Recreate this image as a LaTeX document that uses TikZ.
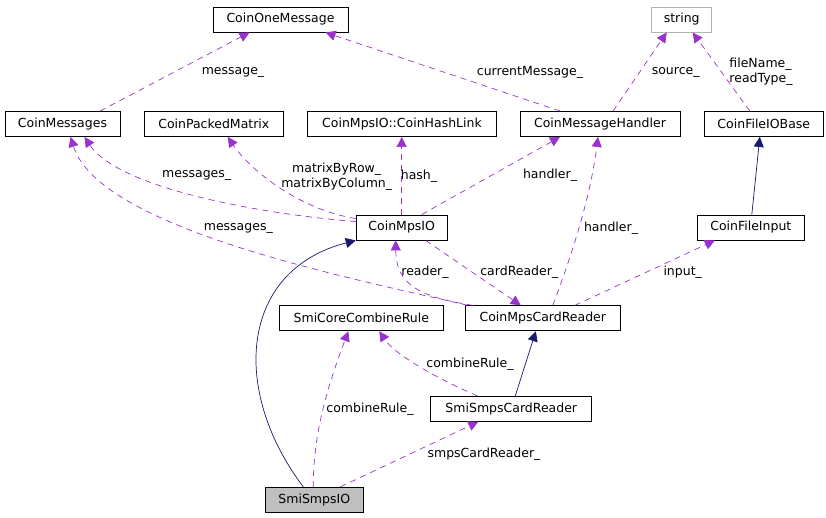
\documentclass[tikz,border=0pt]{standalone}
\usepackage{fontspec}
\setmainfont{DejaVu Sans}
\usepackage{tikz}
\usetikzlibrary{arrows.meta, positioning, calc}
\definecolor{usecolor}{HTML}{9A32CD}
\definecolor{inhcolor}{HTML}{191970}
\definecolor{rootfill}{HTML}{BFBFBF}

\begin{document}
\begin{tikzpicture}[x=1pt, y=-1pt,
    cls/.style={rectangle, draw=black, line width=0.9pt, fill=white, minimum width=#1, minimum height=25pt, inner sep=0pt, font=\fontsize{12.5}{15}\selectfont},
    uses/.style={-{Triangle[length=10pt,width=10pt]}, usecolor, line width=0.7pt, dash pattern=on 6pt off 5pt},
    inherits/.style={-{Triangle[length=10pt,width=10pt]}, inhcolor, line width=0.7pt},
    lbl/.style={font=\fontsize{12.5}{15}\selectfont, inner sep=0pt, align=center}
]
\useasboundingbox (0,0) rectangle (826,517);

% Top row
\node[cls=135pt] (onemsg) at (280.5,19.5) {CoinOneMessage};
\node[cls=60pt, draw=gray!60] (string) at (681.7,19.5) {string};

% Second row
\node[cls=115pt] (msgs) at (62.5,124) {CoinMessages};
\node[cls=139pt] (packed) at (213.8,124) {CoinPackedMatrix};
\node[cls=189pt] (hashlink) at (402,124) {CoinMpsIO::CoinHashLink};
\node[cls=160pt] (handler) at (600,124) {CoinMessageHandler};
\node[cls=119pt] (fileio) at (763.8,124) {CoinFileIOBase};

% Middle
\node[cls=91pt] (mpsio) at (401.7,227.5) {CoinMpsIO};
\node[cls=107pt] (fileinput) at (750.8,227.5) {CoinFileInput};
\node[cls=164pt] (combrule) at (361.3,318.3) {SmiCoreCombineRule};
\node[cls=155pt] (cardreader) at (542.8,318.3) {CoinMpsCardReader};
\node[cls=161pt] (smpscard) at (511.3,408.8) {SmiSmpsCardReader};

% Root class
\node[cls=98pt, fill=rootfill] (smpsio) at (314.3,499.8) {SmiSmpsIO};

% Connections - top
\draw[uses] ([xshift=37.5pt]msgs.north) -- ([xshift=-31pt]onemsg.south);
\draw[uses] ([xshift=-40pt]handler.north) -- ([xshift=45pt]onemsg.south);
\draw[uses] ([xshift=13pt]handler.north) -- ([xshift=-15pt]string.south);
\draw[uses] ([xshift=-14pt]fileio.north) -- ([xshift=11pt]string.south);
\draw[inherits] ([xshift=1pt]fileinput.north) -- ([xshift=-4pt]fileio.south);

% Connections - CoinMpsIO
\draw[uses] ([yshift=6pt]mpsio.west) .. controls (270,215) and (120,190) .. ([xshift=22pt]msgs.south);
\draw[uses] ([yshift=9pt]mpsio.west) .. controls (300,210) and (250,170) .. ([xshift=14pt]packed.south);
\draw[uses] (mpsio.north) -- (mpsio.north |- hashlink.south);
\draw[uses] ([xshift=20pt]mpsio.north) -- ([xshift=-40pt]handler.south);
\draw[uses] ([xshift=24pt]mpsio.south) -- ([xshift=-22pt]cardreader.north);

% Connections - CoinMpsCardReader
\draw[uses] ([xshift=3pt]cardreader.north west) .. controls (360,280) and (100,230) .. ([xshift=8pt]msgs.south);
\draw[uses] ([xshift=8pt]cardreader.north west) .. controls (420,297) and (396,285) .. ([xshift=-6pt]mpsio.south);
\draw[uses] ([xshift=10pt]cardreader.north) .. controls (570,260) and (590,200) .. ([xshift=-2pt]handler.south);
\draw[uses] ([xshift=32pt]cardreader.north) -- ([xshift=-36pt]fileinput.south);

% Connections - Smi classes
\draw[inherits] ([xshift=4pt]smpscard.north) -- ([xshift=-7pt]cardreader.south);
\draw[uses] ([xshift=-34pt]smpscard.north) .. controls (440,380) and (395,355) .. ([xshift=18pt]combrule.south);
\draw[uses] ([xshift=-1pt]smpsio.north) .. controls (313,430) and (330,380) .. ([xshift=-13pt]combrule.south);
\draw[uses] ([xshift=26pt]smpsio.north) -- ([xshift=-33pt]smpscard.south);
\draw[inherits] ([xshift=-11pt]smpsio.north) .. controls (230,390) and (240,270) .. (mpsio.south west);

% Labels
\node[lbl] (l1) at (233,72) {message\_};
\node[lbl] (l2) at (530,72) {currentMessage\_};
\node[lbl] (l3) at (675.7,72) {source\_};
\node[lbl, align=left] (l4) at (761,72) {fileName\_\\readType\_};
\node[lbl] (l5) at (196.7,175.7) {messages\_};
\node[lbl] (l6) at (336.7,176.7) {matrixByRow\_\\matrixByColumn\_};
\node[lbl] (l7) at (419,176) {hash\_};
\node[lbl] (l8) at (550,175.7) {handler\_};
\node[lbl] (l9) at (238.3,228.3) {messages\_};
\node[lbl] (l10) at (611,228.3) {handler\_};
\node[lbl] (l11) at (425,272.7) {reader\_};
\node[lbl] (l12) at (519.3,272.7) {cardReader\_};
\node[lbl] (l13) at (682.7,272.7) {input\_};
\node[lbl] (l14) at (470,364) {combineRule\_};
\node[lbl] (l15) at (370,409) {combineRule\_};
\node[lbl] (l16) at (484,454.3) {smpsCardReader\_};
\end{tikzpicture}
\end{document}
